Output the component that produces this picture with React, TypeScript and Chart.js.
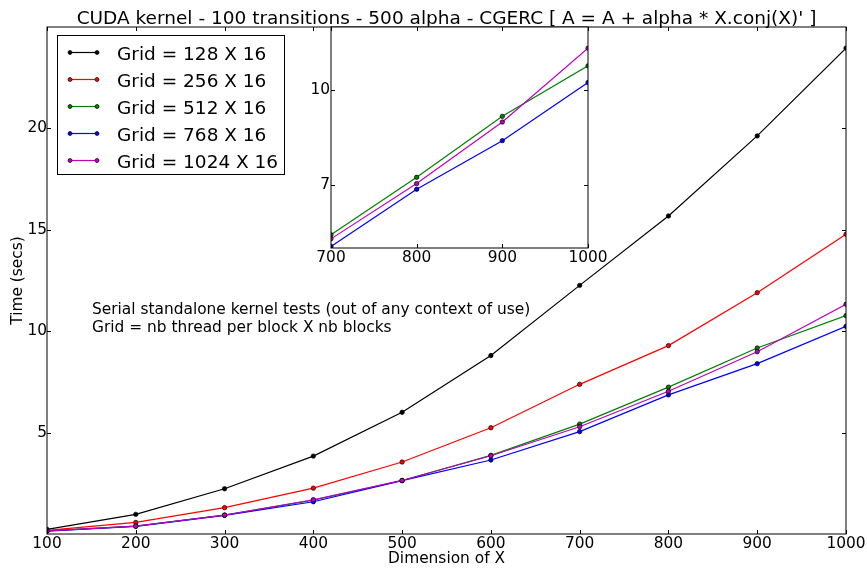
import React, { useEffect, useRef } from "react";
import { Chart, registerables } from "chart.js";

Chart.register(...registerables);

const FONT = "DejaVu Sans";
const SMALL = 15.4;
const BIG = 18.5;

// ---- data ----
const dims = [100, 200, 300, 400, 500, 600, 700, 800, 900, 1000];
const grid128 = [0.23, 0.97, 2.23, 3.84, 6.0, 8.8, 12.26, 15.68, 19.63, 23.96];
const grid256 = [0.18, 0.57, 1.3, 2.26, 3.55, 5.24, 7.38, 9.29, 11.9, 14.78];
const grid512 = [0.15, 0.39, 0.93, 1.67, 2.64, 3.88, 5.42, 7.24, 9.17, 10.77];
const grid768 = [0.14, 0.38, 0.92, 1.59, 2.63, 3.65, 5.05, 6.86, 8.4, 10.24];
const grid1024 = [0.15, 0.39, 0.93, 1.69, 2.64, 3.86, 5.29, 7.04, 8.99, 11.33];

const seriesLabels = [
  "Grid = 128 X 16",
  "Grid = 256 X 16",
  "Grid = 512 X 16",
  "Grid = 768 X 16",
  "Grid = 1024 X 16",
];
const seriesColors = ["#000000", "#ff0000", "#008000", "#0000ff", "#bf00bf"];

const mainXTicks = [100, 200, 300, 400, 500, 600, 700, 800, 900, 1000];
const mainYTicks = [5, 10, 15, 20];
const insetXTicks = [700, 800, 900, 1000];
const insetYTicks = [7, 10];

const titleText = "CUDA kernel - 100 transitions - 500 alpha - CGERC [ A = A + alpha * X.conj(X)' ]";
const noteLines = [
  "Serial standalone kernel tests (out of any context of use)",
  "Grid = nb thread per block X nb blocks",
];
const xTitle = "Dimension of X";
const yTitle = "Time (secs)";

const allSeries = [grid128, grid256, grid512, grid768, grid1024];

function mkDataset(idx: number) {
  const color = seriesColors[idx];
  return {
    label: seriesLabels[idx],
    data: dims.map((x, i) => ({ x, y: allSeries[idx][i] })),
    borderColor: color,
    backgroundColor: color,
    borderWidth: 1.2,
    pointRadius: 2.2,
    pointHoverRadius: 2.2,
    pointBorderWidth: 0.7,
    pointBorderColor: "#000",
    pointBackgroundColor: color,
    tension: 0,
    clip: 0,
    order: -idx,
  };
}

const framePlugin = {
  id: "frame",
  beforeDraw(chart: any, _args: any, opts: any) {
    const { ctx, chartArea: a } = chart;
    ctx.save();
    ctx.fillStyle = "#ffffff";
    if (opts && opts.full) ctx.fillRect(0, 0, chart.width, chart.height);
    else ctx.fillRect(a.left, a.top, a.right - a.left, a.bottom - a.top);
    ctx.restore();
  },
  afterDraw(chart: any) {
    const { ctx, chartArea: a, scales } = chart;
    ctx.save();
    ctx.strokeStyle = "#000";
    ctx.lineWidth = 1;
    ctx.strokeRect(a.left, a.top, a.right - a.left, a.bottom - a.top);
    const L = 4;
    ctx.beginPath();
    for (const t of scales.x.ticks) {
      const px = Math.round(scales.x.getPixelForValue(t.value)) + 0.5;
      ctx.moveTo(px, a.bottom);
      ctx.lineTo(px, a.bottom - L);
      ctx.moveTo(px, a.top);
      ctx.lineTo(px, a.top + L);
    }
    for (const t of scales.y.ticks) {
      const py = Math.round(scales.y.getPixelForValue(t.value)) + 0.5;
      ctx.moveTo(a.left, py);
      ctx.lineTo(a.left + L, py);
      ctx.moveTo(a.right, py);
      ctx.lineTo(a.right - L, py);
    }
    ctx.stroke();
    ctx.restore();
  },
};

const decorPlugin = {
  id: "decor",
  afterDraw(chart: any) {
    const { ctx, chartArea: a } = chart;
    ctx.save();
    // title
    ctx.fillStyle = "#000";
    ctx.font = `${BIG}px "${FONT}"`;
    ctx.textAlign = "center";
    ctx.textBaseline = "alphabetic";
    ctx.fillText(titleText, (a.left + a.right) / 2, 24);
    // note
    ctx.font = `${SMALL}px "${FONT}"`;
    ctx.textAlign = "left";
    ctx.fillText(noteLines[0], 92, 314);
    ctx.fillText(noteLines[1], 92, 331.5);
    // legend
    const bx = 57, by = 35, bw = 227, bh = 139;
    ctx.fillStyle = "#fff";
    ctx.fillRect(bx, by, bw, bh);
    ctx.strokeStyle = "#000";
    ctx.lineWidth = 1;
    ctx.strokeRect(bx + 0.5, by + 0.5, bw, bh);
    chart.data.datasets.forEach((ds: any, i: number) => {
      const y = 52.5 + i * 27;
      ctx.strokeStyle = ds.borderColor;
      ctx.lineWidth = 1.2;
      ctx.beginPath();
      ctx.moveTo(70, y);
      ctx.lineTo(97, y);
      ctx.stroke();
      for (const px of [70, 97]) {
        ctx.beginPath();
        ctx.arc(px, y, 2, 0, Math.PI * 2);
        ctx.fillStyle = ds.borderColor;
        ctx.fill();
        ctx.lineWidth = 0.7;
        ctx.strokeStyle = "#000";
        ctx.stroke();
      }
      ctx.fillStyle = "#000";
      ctx.font = `${BIG}px "${FONT}"`;
      ctx.textAlign = "left";
      ctx.textBaseline = "alphabetic";
      ctx.fillText(ds.label, 117, y + 7);
    });
    ctx.restore();
  },
};

export default function App() {
  const mainRef = useRef<HTMLCanvasElement | null>(null);
  const insetRef = useRef<HTMLCanvasElement | null>(null);

  useEffect(() => {
    const tickFont = { family: FONT, size: SMALL };
    const main = new Chart(mainRef.current as HTMLCanvasElement, {
      type: "line",
      data: { datasets: [0, 1, 2, 3, 4].map(mkDataset) as any },
      options: {
        animation: false,
        responsive: false,
        devicePixelRatio: 1,
        events: [],
        layout: { padding: { top: 27, right: 21, left: 0, bottom: 0 } },
        plugins: {
          legend: { display: false },
          tooltip: { enabled: false },
          title: { display: false },
          frame: { full: true },
        } as any,
        scales: {
          x: {
            type: "linear",
            min: 100,
            max: 1000,
            grid: { display: false, drawTicks: false },
            border: { display: false },
            afterBuildTicks: (s: any) => {
              s.ticks = mainXTicks.map((v) => ({ value: v }));
            },
            afterFit: (s: any) => {
              s.height = 34;
              s.paddingLeft = 0;
              s.paddingRight = 0;
            },
            ticks: {
              font: tickFont,
              color: "#000",
              padding: 1,
              maxRotation: 0,
              autoSkip: false,
              callback: (v: any) => String(v),
            },
            title: {
              display: true,
              text: xTitle,
              font: { family: FONT, size: SMALL },
              color: "#000",
              padding: { top: 0, bottom: 0 },
            },
          },
          y: {
            type: "linear",
            min: 0,
            max: 25,
            grid: { display: false, drawTicks: false },
            border: { display: false },
            afterBuildTicks: (s: any) => {
              s.ticks = mainYTicks.map((v) => ({ value: v }));
            },
            afterFit: (s: any) => {
              s.width = 47;
              s.paddingTop = 0;
              s.paddingBottom = 0;
            },
            ticks: {
              font: tickFont,
              color: "#000",
              padding: 0,
              callback: (v: any) => String(v),
            },
            title: {
              display: true,
              text: yTitle,
              font: { family: FONT, size: SMALL },
              color: "#000",
              padding: { top: 9, bottom: 0 },
            },
          },
        },
      },
      plugins: [framePlugin, decorPlugin],
    } as any);

    const inset = new Chart(insetRef.current as HTMLCanvasElement, {
      type: "line",
      data: { datasets: [2, 3, 4].map(mkDataset) as any },
      options: {
        animation: false,
        responsive: false,
        devicePixelRatio: 1,
        events: [],
        layout: { padding: { top: 27, right: 22, left: 0, bottom: 0 } },
        plugins: {
          legend: { display: false },
          tooltip: { enabled: false },
          title: { display: false },
          frame: { full: false },
        } as any,
        scales: {
          x: {
            type: "linear",
            min: 700,
            max: 1000,
            grid: { display: false, drawTicks: false },
            border: { display: false },
            afterBuildTicks: (s: any) => {
              s.ticks = insetXTicks.map((v) => ({ value: v }));
            },
            afterFit: (s: any) => {
              s.height = 32;
              s.paddingLeft = 0;
              s.paddingRight = 0;
            },
            ticks: {
              font: tickFont,
              color: "#000",
              padding: 1,
              maxRotation: 0,
              autoSkip: false,
              callback: (v: any) => String(v),
            },
          },
          y: {
            type: "linear",
            min: 5,
            max: 12,
            grid: { display: false, drawTicks: false },
            border: { display: false },
            afterBuildTicks: (s: any) => {
              s.ticks = insetYTicks.map((v) => ({ value: v }));
            },
            afterFit: (s: any) => {
              s.width = 41;
              s.paddingTop = 0;
              s.paddingBottom = 0;
            },
            ticks: {
              font: tickFont,
              color: "#000",
              padding: 1,
              callback: (v: any) => String(v),
            },
          },
        },
      },
      plugins: [framePlugin],
    } as any);

    return () => {
      main.destroy();
      inset.destroy();
    };
  }, []);

  return (
    <div style={{ position: "fixed", left: 0, top: 0, width: 867, height: 568, background: "#fff" }}>
      <canvas
        ref={mainRef}
        width={867}
        height={568}
        style={{ position: "absolute", left: 0, top: 0, width: 867, height: 568 }}
      />
      <canvas
        ref={insetRef}
        width={320}
        height={280}
        style={{ position: "absolute", left: 290, top: 0, width: 320, height: 280 }}
      />
    </div>
  );
}
